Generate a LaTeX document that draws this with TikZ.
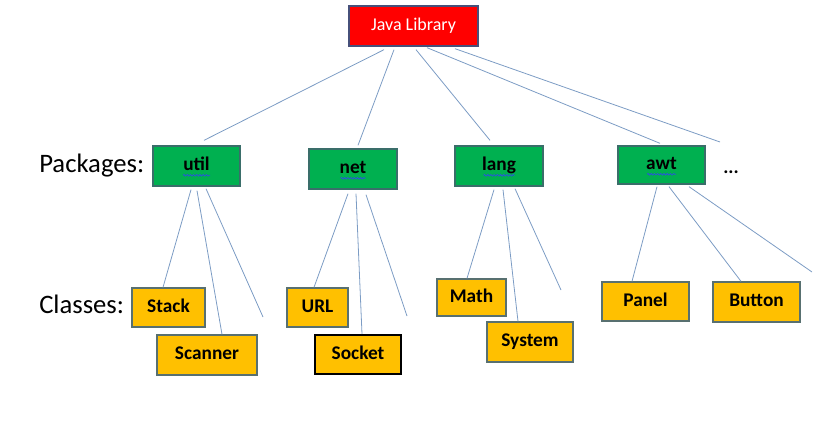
\documentclass[tikz,border=0pt]{standalone}
\usepackage{fontspec}
\setmainfont{Carlito}
\usepackage{tikz}
\usetikzlibrary{calc,decorations.pathmorphing}

\definecolor{libred}{HTML}{FF0000}
\definecolor{libedge}{HTML}{46507A}
\definecolor{pkggreen}{HTML}{00B050}
\definecolor{pkgedge}{HTML}{3A6E6A}
\definecolor{clsyellow}{HTML}{FFC000}
\definecolor{clsedge}{HTML}{587070}
\definecolor{linkblue}{HTML}{7C9CC4}
\definecolor{spellblue}{HTML}{2A55D8}

\tikzset{
  wd/.style={minimum width=#1*0.75pt},
  ht/.style={minimum height=#1*0.75pt},
  box/.style={rectangle, line width=1pt, inner sep=1pt, ht=40,
              text height=1.5ex, text depth=0pt, font=\fontsize{14.5}{17}\selectfont\bfseries},
  libbox/.style={box, fill=libred, draw=libedge, text=white, font=\fontsize{13.5}{16}\selectfont},
  pkgbox/.style={box, fill=pkggreen, draw=pkgedge},
  clsbox/.style={box, fill=clsyellow, draw=clsedge},
  rowlabel/.style={anchor=base west, inner sep=0pt, font=\fontsize{20}{24}\selectfont},
  link/.style={draw=linkblue, line width=0.6pt},
  squig/.style={draw=spellblue, line width=0.6pt, decorate,
                decoration={snake, amplitude=0.6pt, segment length=2.4pt}}
}

\begin{document}
\begin{tikzpicture}[x=0.75pt,y=0.75pt,yscale=-1,xscale=1]
\useasboundingbox (0,0) rectangle (835,429);

%Library
\node[libbox, wd=129] (java) at (413.5,26) {Java Library};

%Packages
\node[rowlabel] (pkglabel) at (39,172) {Packages:};
\node[pkgbox, wd=87] (util) at (196.5,166) {util};
\node[pkgbox, wd=88] (net) at (353,169) {net};
\node[pkgbox, wd=88] (lang) at (499,166) {lang};
\node[pkgbox, wd=87, ht=38] (awt) at (661.5,165) {awt};
\node[anchor=base, inner sep=0pt, font=\fontsize{14.5}{17}\selectfont\bfseries] (dots) at (731,173) {...};

%spell check marks
\foreach \n/\w in {util/13.5,net/12.5,lang/15.5,awt/14.5}
  \draw[squig] ($(\n.base)+(-\w,4.5)$) -- ($(\n.base)+(\w,4.5)$);

%Classes
\node[rowlabel] (clslabel) at (39,313) {Classes:};
\node[clsbox, wd=73, ht=39] (stack) at (168.5,307.5) {Stack};
\node[clsbox, wd=100] (scanner) at (207,355) {Scanner};
\node[clsbox, wd=61, ht=39] (url) at (317.5,307.5) {URL};
\node[clsbox, wd=86, ht=39, draw=black, line width=1.5pt] (socket) at (358,354.5) {Socket};
\node[clsbox, wd=69, ht=37] (math) at (471.5,297.5) {Math};
\node[clsbox, wd=86] (system) at (530,342) {System};
\node[clsbox, wd=87, ht=39] (panel) at (645.5,301.5) {Panel};
\node[clsbox, wd=87] (button) at (756.5,302) {Button};

%free ends
\coordinate (javamore) at (720,142);
\coordinate (utilmore) at (263,317);
\coordinate (netmore) at (407,316);
\coordinate (langmore) at (561,290);
\coordinate (awtmore) at (812,272);

%Library - packages
\draw[link] ($(java.south)+(-29.5,3)$) -- ($(util.north)+(7.5,-5)$);
\draw[link] ($(java.south)+(-19.5,3)$) -- ($(net.north)+(5,-3)$);
\draw[link] ($(java.south)+(2.5,3)$) -- ($(lang.north)+(-9,-5)$);
\draw[link] ($(java.south)+(13.5,1)$) -- ($(awt.north)+(-1.5,-2)$);
\draw[link] ($(java.south)+(41.5,2)$) -- (javamore);

%util
\draw[link] ($(util.south)+(-5.5,3)$) -- ($(stack.north)+(-5.5,0)$);
\draw[link] ($(util.south)+(0.5,4)$) -- ($(scanner.north)+(15,0)$);
\draw[link] ($(util.south)+(9.5,2)$) -- (utilmore);

%net
\draw[link] ($(net.south)+(-5,4)$) -- ($(url.north)+(-3.5,0)$);
\draw[link] ($(net.south)+(3,4)$) -- ($(socket.north)+(4,0)$);
\draw[link] ($(net.south)+(13,5)$) -- (netmore);

%lang
\draw[link] ($(lang.south)+(-5,3)$) -- ($(math.north)+(-4.5,0)$);
\draw[link] ($(lang.south)+(4,3)$) -- ($(system.north)+(-12,0)$);
\draw[link] ($(lang.south)+(16,2)$) -- (langmore);

%awt
\draw[link] ($(awt.south)+(-4.5,2)$) -- ($(panel.north)+(-13.5,0)$);
\draw[link] ($(awt.south)+(7.5,2)$) -- ($(button.north)+(-15.5,0)$);
\draw[link] ($(awt.south)+(27.5,2)$) -- (awtmore);

\end{tikzpicture}
\end{document}
